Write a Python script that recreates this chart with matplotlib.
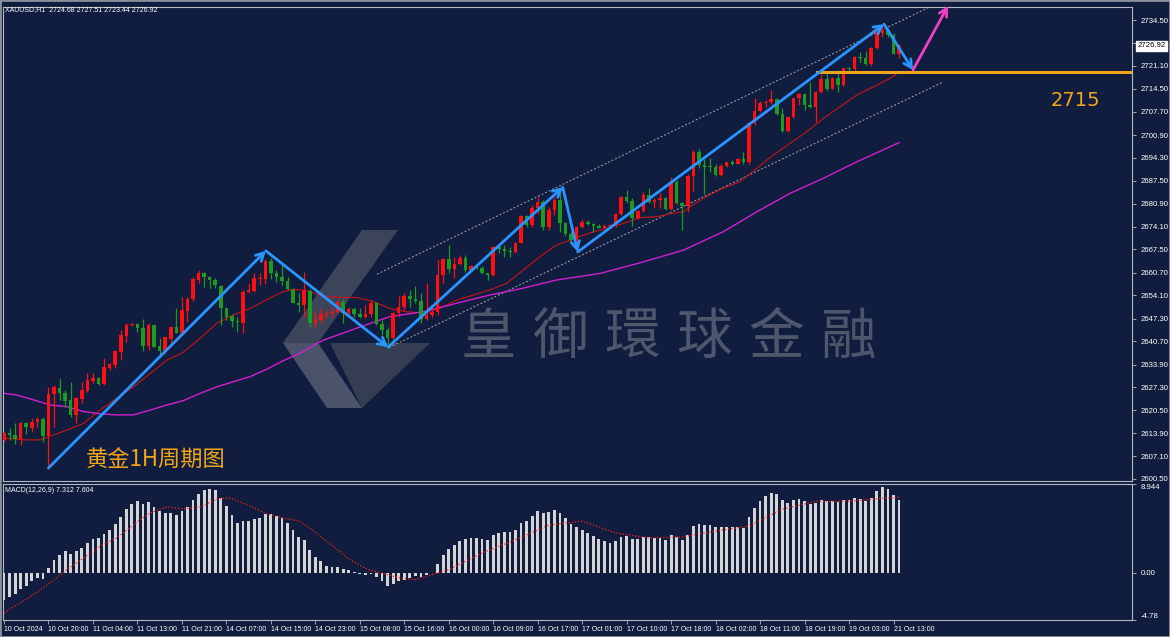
import numpy as np
import matplotlib
matplotlib.use("Agg")
import matplotlib.pyplot as plt
from matplotlib.patches import Polygon
import matplotlib.transforms as mtransforms

plt.rcParams['font.family'] = ['Liberation Sans', 'DejaVu Sans']

# ---- data (XAUUSD H1) ----
opens = [2611.9, 2614.0, 2613.3, 2612.2, 2616.9, 2615.3, 2617.2, 2617.9, 2613.0, 2625.3,
         2627.2, 2625.5, 2623.6, 2619.2, 2623.8, 2626.3, 2629.2, 2629.9, 2628.2, 2633.0,
         2633.8, 2637.7, 2642.3, 2645.4, 2645.7, 2644.7, 2639.3, 2645.4, 2639.3, 2637.9,
         2641.5, 2644.8, 2643.2, 2649.6, 2652.9, 2658.6, 2660.5, 2659.4, 2658.6, 2656.8,
         2650.3, 2648.1, 2646.7, 2646.1, 2655.0, 2655.5, 2658.9, 2658.8, 2664.0, 2660.5,
         2659.4, 2658.4, 2655.7, 2652.0, 2651.3, 2655.4, 2645.9, 2646.9, 2648.6, 2649.0,
         2649.3, 2652.3, 2648.9, 2650.0, 2648.6, 2647.9, 2648.6, 2651.8, 2645.7, 2644.0,
         2641.6, 2648.9, 2650.8, 2653.9, 2652.9, 2652.4, 2647.1, 2648.4, 2649.3, 2660.0,
         2664.7, 2661.7, 2663.4, 2665.1, 2661.5, 2662.7, 2662.0, 2660.5, 2660.0, 2668.1,
         2667.6, 2667.1, 2666.8, 2669.5, 2677.3, 2674.6, 2679.5, 2681.5, 2674.2, 2679.0,
         2681.9, 2675.1, 2672.0, 2670.3, 2674.2, 2675.6, 2674.9, 2674.4, 2673.9, 2674.4,
         2674.6, 2677.8, 2682.9, 2681.7, 2676.6, 2678.7, 2683.4, 2681.3, 2682.0, 2682.4,
         2679.2, 2687.3, 2681.2, 2680.3, 2689.0, 2695.9, 2692.2, 2692.0, 2691.6, 2689.2,
         2692.0, 2692.9, 2692.6, 2693.9, 2692.9, 2704.3, 2707.9, 2710.2, 2710.5, 2711.4,
         2707.0, 2702.1, 2706.3, 2711.6, 2712.8, 2709.7, 2709.2, 2713.4, 2717.3, 2714.5,
         2717.7, 2715.5, 2720.4, 2720.1, 2723.8, 2723.5, 2721.6, 2726.4, 2730.6, 2731.6,
         2730.1, 2724.68]
highs = [2614.3, 2615.3, 2616.7, 2617.2, 2617.2, 2618.2, 2618.5, 2618.7, 2627.4, 2627.8,
         2629.9, 2626.5, 2628.9, 2624.5, 2628.9, 2631.3, 2631.3, 2630.2, 2635.7, 2634.5,
         2638.2, 2644.0, 2646.1, 2645.9, 2645.9, 2647.1, 2645.9, 2645.7, 2641.6, 2642.0,
         2645.0, 2650.3, 2653.7, 2653.7, 2659.4, 2661.5, 2661.0, 2659.8, 2659.1, 2657.1,
         2650.8, 2648.7, 2647.9, 2655.7, 2657.6, 2660.5, 2660.5, 2664.6, 2664.9, 2661.5,
         2663.0, 2659.6, 2656.2, 2654.7, 2661.0, 2655.9, 2649.3, 2650.3, 2649.8, 2650.8,
         2652.7, 2652.9, 2650.8, 2650.8, 2650.3, 2651.3, 2652.7, 2652.3, 2646.9, 2645.0,
         2649.3, 2653.9, 2654.7, 2655.7, 2656.8, 2654.7, 2657.6, 2650.3, 2664.4, 2664.9,
         2668.8, 2665.4, 2665.9, 2665.9, 2662.9, 2662.9, 2662.7, 2660.7, 2668.5, 2668.8,
         2668.8, 2668.1, 2669.8, 2677.6, 2677.6, 2680.5, 2682.9, 2681.9, 2680.0, 2682.9,
         2685.4, 2675.6, 2672.7, 2674.4, 2676.3, 2676.1, 2675.1, 2674.8, 2674.8, 2674.8,
         2678.1, 2683.2, 2684.9, 2682.4, 2679.0, 2684.2, 2685.5, 2682.6, 2683.9, 2682.8,
         2688.8, 2687.8, 2681.5, 2689.4, 2696.6, 2696.8, 2693.9, 2694.1, 2692.4, 2692.4,
         2693.1, 2693.6, 2694.3, 2696.1, 2704.8, 2711.8, 2710.9, 2711.1, 2714.1, 2711.6,
         2708.7, 2706.5, 2711.8, 2713.1, 2713.1, 2716.5, 2713.8, 2718.6, 2718.6, 2718.0,
         2719.9, 2720.6, 2720.9, 2724.1, 2725.1, 2725.5, 2726.7, 2731.6, 2733.0, 2732.0,
         2730.6, 2727.51]
lows = [2611.4, 2611.9, 2610.7, 2610.4, 2613.6, 2614.3, 2615.8, 2611.4, 2603.3, 2615.8,
        2623.6, 2621.6, 2618.7, 2616.7, 2622.6, 2626.0, 2628.4, 2627.9, 2627.9, 2632.3,
        2632.8, 2635.2, 2640.6, 2645.2, 2643.5, 2638.0, 2638.2, 2638.9, 2636.7, 2637.2,
        2640.1, 2643.0, 2642.5, 2646.4, 2652.6, 2657.6, 2656.4, 2656.2, 2656.2, 2645.4,
        2646.9, 2645.0, 2643.5, 2643.2, 2654.7, 2655.2, 2657.1, 2657.4, 2658.8, 2658.1,
        2657.1, 2655.7, 2651.8, 2649.3, 2647.9, 2645.0, 2645.0, 2645.9, 2647.4, 2647.9,
        2648.9, 2645.9, 2648.4, 2647.9, 2647.4, 2647.4, 2647.9, 2645.4, 2642.5, 2638.7,
        2641.1, 2647.9, 2649.8, 2650.8, 2652.0, 2645.9, 2646.9, 2647.9, 2648.4, 2657.6,
        2660.5, 2659.1, 2662.9, 2661.0, 2661.3, 2661.7, 2660.3, 2658.6, 2659.8, 2666.5,
        2665.4, 2665.4, 2666.4, 2669.3, 2674.2, 2674.2, 2678.0, 2673.2, 2673.2, 2677.6,
        2672.7, 2671.4, 2669.3, 2666.8, 2673.7, 2674.6, 2672.7, 2673.7, 2673.7, 2673.7,
        2674.2, 2677.6, 2681.0, 2674.5, 2676.4, 2678.5, 2681.0, 2679.5, 2679.5, 2679.0,
        2679.0, 2680.7, 2673.2, 2678.5, 2684.6, 2691.2, 2683.6, 2690.2, 2689.1, 2689.1,
        2691.7, 2692.2, 2692.4, 2692.6, 2692.6, 2703.8, 2707.7, 2709.2, 2709.9, 2706.8,
        2701.9, 2701.7, 2706.0, 2709.7, 2708.2, 2708.9, 2704.8, 2713.1, 2713.8, 2714.4,
        2713.6, 2715.3, 2718.9, 2719.6, 2722.3, 2721.4, 2721.2, 2726.0, 2729.6, 2729.6,
        2724.5, 2723.44]
closes = [2613.8, 2613.3, 2612.2, 2616.7, 2615.6, 2617.2, 2617.9, 2613.0, 2625.3, 2627.4,
          2625.5, 2623.4, 2619.2, 2624.0, 2626.5, 2629.4, 2629.9, 2628.2, 2633.3, 2634.0,
          2637.9, 2642.5, 2645.4, 2645.7, 2644.7, 2639.3, 2645.4, 2639.1, 2638.0, 2641.8,
          2644.8, 2643.2, 2649.8, 2652.9, 2658.8, 2660.5, 2659.6, 2658.6, 2657.1, 2650.3,
          2647.9, 2646.7, 2646.2, 2655.2, 2655.7, 2659.1, 2659.3, 2664.0, 2660.5, 2659.4,
          2658.4, 2655.9, 2652.0, 2651.3, 2655.4, 2645.9, 2646.9, 2648.6, 2649.0, 2649.3,
          2652.3, 2648.9, 2650.0, 2648.6, 2647.9, 2648.6, 2651.8, 2645.7, 2644.0, 2641.6,
          2648.9, 2650.8, 2653.9, 2652.9, 2652.4, 2647.1, 2648.4, 2649.3, 2660.0, 2664.7,
          2661.7, 2663.4, 2665.1, 2661.5, 2662.7, 2662.0, 2660.5, 2660.0, 2668.1, 2667.6,
          2667.1, 2666.8, 2669.5, 2677.3, 2674.6, 2679.5, 2681.5, 2674.2, 2679.0, 2681.9,
          2675.1, 2672.0, 2670.3, 2674.2, 2675.6, 2674.9, 2674.4, 2673.9, 2674.4, 2674.6,
          2677.8, 2682.9, 2681.7, 2676.6, 2678.7, 2683.4, 2681.3, 2682.0, 2682.4, 2679.2,
          2687.3, 2681.2, 2680.3, 2689.0, 2695.9, 2692.2, 2691.7, 2691.6, 2689.2, 2692.0,
          2692.9, 2692.6, 2693.9, 2692.9, 2704.3, 2707.9, 2710.2, 2710.5, 2711.4, 2707.0,
          2702.1, 2706.3, 2711.6, 2712.8, 2709.7, 2709.2, 2713.4, 2717.3, 2714.5, 2717.7,
          2715.5, 2720.4, 2720.1, 2723.8, 2723.3, 2721.6, 2726.4, 2731.1, 2731.6, 2730.1,
          2724.68, 2726.92]

# moving averages (red fast, magenta slow), sampled along the lines
ma_fast_x = [0, 4, 6.5, 8, 11.3, 14.3, 17.3, 19, 23.3, 26.3, 29.3, 32, 35.3, 38.3, 41.3,
             44.3, 47.2, 50.2, 52, 54.4, 57.4, 60.4, 63.4, 66.4, 69.4, 72.4, 75.4, 78.4,
             81.4, 84.4, 87.4, 90.4, 93.4, 96.4, 99.4, 101.2, 103, 105.4, 108.4, 111.4,
             114.4, 117.4, 120.4, 122.2, 123.4, 126.4, 129.4, 132.4, 135.4, 138.4, 141.4,
             144.4, 147.4, 150.4, 153.4, 156.4, 159.4, 161]
ma_fast_y = [2612.4, 2611.9, 2611.9, 2612.8, 2614.8, 2616.7, 2620.6, 2622.6, 2627.4, 2631.3,
             2635.2, 2637.2, 2641.6, 2646.0, 2648.4, 2650.3, 2652.8, 2655.2, 2655.9, 2655.5,
             2653.9, 2653.5, 2653.5, 2652.3, 2650.3, 2649.3, 2649.0, 2650.3, 2652.7, 2654.2,
             2655.7, 2657.6, 2661.5, 2665.4, 2668.8, 2669.8, 2671.0, 2672.3, 2673.7, 2675.1,
             2676.8, 2677.1, 2678.1, 2678.5, 2680.0, 2683.0, 2685.4, 2687.3, 2691.2, 2695.1,
             2698.5, 2701.9, 2705.8, 2709.2, 2712.6, 2715.0, 2717.5, 2719.3]
ma_slow_x = [0, 2.3, 5.3, 8.3, 11.3, 14.3, 17.3, 20.3, 23.3, 26.3, 29.3, 32.3, 35.3, 38.3,
             41.3, 44.3, 47.2, 50.2, 53.2, 57.4, 63.4, 69.4, 75.4, 81.4, 87.4, 93.4, 99.4,
             107.2, 114.4, 122.2, 129.4, 135.4, 141.4, 147.4, 153.4, 161]
ma_slow_y = [2625.5, 2625.0, 2623.6, 2622.1, 2621.6, 2620.2, 2619.5, 2619.2, 2619.2, 2620.6,
             2622.1, 2623.4, 2625.5, 2627.4, 2628.9, 2630.4, 2632.5, 2635.0, 2637.2, 2641.0,
             2644.5, 2647.9, 2649.3, 2651.8, 2654.2, 2656.2, 2658.6, 2660.5, 2663.6, 2667.3,
             2672.7, 2678.5, 2683.9, 2688.3, 2693.1, 2698.7]

macd = [-2.8, -2.46, -2.2, -1.65, -1.3, -0.88, -0.54, -0.6, 0.44, 1.31,
        1.82, 2.15, 1.92, 2.15, 2.49, 3.0, 3.4, 3.5, 3.94, 4.34,
        4.95, 5.62, 6.43, 6.97, 7.2, 6.97, 7.1, 6.63, 6.2, 6.03,
        6.03, 5.86, 6.2, 6.63, 7.37, 7.98, 8.38, 8.45, 8.38, 7.54,
        6.77, 5.86, 5.02, 5.19, 5.19, 5.42, 5.52, 5.96, 5.96, 5.76,
        5.52, 5.02, 4.34, 3.6, 3.33, 2.32, 1.58, 1.14, 0.71, 0.57,
        0.57, 0.37, 0.24, 0.1, -0.17, -0.2, -0.13, -0.44, -0.88, -1.38,
        -1.11, -0.88, -0.7, -0.5, -0.3, -0.4, -0.2, 0.0, 0.9, 1.8,
        2.4, 2.8, 3.2, 3.4, 3.5, 3.5, 3.4, 3.3, 3.8, 4.0,
        4.1, 4.1, 4.3, 5.0, 5.2, 5.7, 6.2, 6.0, 6.1, 6.3,
        6.0, 5.5, 4.9, 4.6, 4.3, 4.0, 3.7, 3.4, 3.2, 3.0,
        3.2, 3.6, 3.7, 3.4, 3.4, 3.6, 3.6, 3.5, 3.5, 3.3,
        3.8, 3.6, 3.3, 3.8, 4.7, 4.9, 4.8, 4.8, 4.6, 4.6,
        4.6, 4.6, 4.6, 4.5, 5.6, 6.5, 7.2, 7.7, 8.0, 7.9,
        7.3, 7.0, 7.3, 7.4, 7.2, 6.9, 7.0, 7.3, 7.2, 7.2,
        7.1, 7.3, 7.3, 7.5, 7.4, 7.2, 7.5, 8.2, 8.6, 8.4,
        7.8, 7.312]
signal_x = [0, 5.3, 8.3, 11.3, 14.3, 17.3, 20.3, 23.3, 26.3, 29.3, 32.3, 35.3, 38.3, 40.7,
            44.3, 47.2, 50.2, 53.2, 56.2, 59.2, 62.2, 65.2, 68.2, 71.2, 74, 80, 86, 92, 98,
            104, 110, 116, 122, 128, 134, 140, 146, 152, 158, 161]
signal_y = [-4.07, -2.22, -1.04, 0.3, 1.48, 2.66, 3.5, 4.85, 6.03, 6.63, 6.43, 6.63, 7.44,
            7.54, 6.7, 5.96, 5.52, 5.19, 4.0, 2.66, 1.31, 0.37, -0.1, -0.54, -0.7, 0.3, 2.0,
            3.3, 4.8, 5.2, 4.0, 3.5, 3.6, 4.2, 4.7, 6.4, 7.2, 7.2, 7.5, 7.604]

time_labels = ['10 Oct 2024', '10 Oct 20:00', '11 Oct 04:00', '11 Oct 13:00', '11 Oct 21:00',
               '14 Oct 07:00', '14 Oct 15:00', '14 Oct 23:00', '15 Oct 08:00', '15 Oct 16:00',
               '16 Oct 00:00', '16 Oct 09:00', '16 Oct 17:00', '17 Oct 01:00', '17 Oct 10:00',
               '17 Oct 18:00', '18 Oct 02:00', '18 Oct 11:00', '18 Oct 19:00', '19 Oct 03:00',
               '21 Oct 13:00']
price_ticks = [2734.50, 2727.70, 2721.10, 2714.50, 2707.70, 2700.90, 2694.30, 2687.50,
               2680.90, 2674.10, 2667.50, 2660.70, 2654.10, 2647.30, 2640.70, 2633.90,
               2627.30, 2620.50, 2613.90, 2607.10, 2600.50]

# analyst drawings: zigzag (bar index, price), channel, support level
zig_x = [8, 47.1, 69.1, 100.5, 103.2, 158.3, 163.5]
zig_y = [2603.7, 2667.1, 2639.0, 2685.7, 2666.8, 2733.3, 2719.9]
proj_x = [163.5, 169.8]
proj_y = [2719.9, 2738.6]
chan_up_x, chan_up_y = [67.1, 166.5], [2660.3, 2738.3]
chan_lo_x, chan_lo_y = [69.3, 168.9], [2638.9, 2716.4]
level_start, level_price = 146.2, 2719.4
level_label = '2715'

BG = '#101d3e'
UP = '#ff1010'
DN = '#1e9a1e'
BLUE = '#2b95ff'
ORANGE = '#f2a51a'
GRID = '#b4b8c0'

W, H = 1170, 637
fig = plt.figure(figsize=(W / 100, H / 100), dpi=100, facecolor=BG)


def px(x, y):
    return (x / W, 1 - y / H)


ax = fig.add_axes([3 / W, 1 - 481 / H, 1129 / W, 474 / H], facecolor=BG)
axm = fig.add_axes([3 / W, 1 - 620 / H, 1129 / W, 136 / H], facecolor=BG, sharex=ax)

n = len(closes)
idx = np.arange(n)
o = np.array(opens)
c = np.array(closes)
up = c >= o
cols = np.where(up, UP, DN)

# watermark (logo + company name)
logo = [
    ([(362, 230), (398, 230), (318, 343), (283, 343)], '#3c4459'),
    ([(283, 343), (318, 343), (362, 408), (327, 408)], '#4a536a'),
    ([(330, 343), (430, 343), (362, 408)], '#353d52'),
]
for pts, col in logo:
    fig.patches.append(Polygon([px(*p) for p in pts], closed=True, transform=fig.transFigure,
                               facecolor=col, edgecolor='none', zorder=0.5))
for k, ch in enumerate('皇御環球金融'):
    fig.text(*px(488 + k * 72, 338), ch, fontsize=40, color='#4e566b',
             family=['Noto Sans CJK TC', 'DejaVu Sans'], ha='center', va='center', zorder=0.6)

ax.patch.set_alpha(0)
axm.patch.set_alpha(0)
ax.set_zorder(2)
axm.set_zorder(2)

# candles
ax.vlines(idx, lows, highs, colors=cols, lw=0.9, zorder=3)
ax.bar(idx, np.maximum(np.abs(c - o), 0.18), bottom=np.minimum(o, c), width=0.64,
       color=cols, lw=0, zorder=3)

ax.plot(ma_fast_x, ma_fast_y, color='#c81414', lw=0.8, zorder=2.5)
ax.plot(ma_slow_x, ma_slow_y, color='#d020d0', lw=1.0, zorder=2.5)

ax.plot(chan_up_x, chan_up_y, color='#a8a8b0', lw=0.7, ls=(0, (2, 2)), zorder=2)
ax.plot(chan_lo_x, chan_lo_y, color='#a8a8b0', lw=0.7, ls=(0, (2, 2)), zorder=2)

ax.plot([level_start, 202.9], [level_price, level_price], color=ORANGE, lw=2.2, zorder=4)
ax.text(192.8, 2711.1, level_label, color=ORANGE, fontsize=14, ha='center', va='center',
        family=['DejaVu Sans'])

for k in range(len(zig_x) - 1):
    ax.annotate('', xy=(zig_x[k + 1], zig_y[k + 1]), xytext=(zig_x[k], zig_y[k]),
                arrowprops=dict(arrowstyle='->,head_length=0.55,head_width=0.3', color=BLUE,
                                lw=2.0, shrinkA=0, shrinkB=0), zorder=5)
ax.annotate('', xy=(proj_x[1], proj_y[1]), xytext=(proj_x[0], proj_y[0]),
            arrowprops=dict(arrowstyle='->,head_length=0.55,head_width=0.3', color='#f040c8',
                            lw=2.0, shrinkA=0, shrinkB=0), annotation_clip=False, zorder=5)

ax.text(27.2, 2606.0, '黄金1H周期图', color=ORANGE, fontsize=16,
        family=['Noto Sans CJK SC', 'DejaVu Sans'], ha='center', va='center')

ax.set_xlim(-0.18, 202.9)
ax.set_ylim(2599.9, 2738.3)
ax.yaxis.tick_right()
ax.set_yticks(price_ticks)
ax.set_yticklabels([f'{v:.2f}' for v in price_ticks])
ax.tick_params(axis='y', colors=GRID, labelcolor='white', labelsize=5.6, length=3, width=0.6, pad=3)
ax.tick_params(axis='x', bottom=False, labelbottom=False)

# current price tag (sits over the 2727.70 tick label, as on the terminal)
tr = mtransforms.blended_transform_factory(ax.transAxes, ax.transData)
ax.text(1.005, closes[-1], f'{closes[-1]:.2f}', transform=tr, fontsize=5.6, color='black',
        va='center', ha='left', clip_on=False, zorder=10,
        bbox=dict(boxstyle='square,pad=0.2', facecolor='white', edgecolor='white'))

fig.text(*px(5, 10), 'XAUUSD,H1  2724.68 2727.51 2723.44 2726.92', fontsize=5.0,
         color='white', va='center', ha='left')

# MACD panel
axm.bar(idx, macd, width=0.5, color='#d4d4d4', lw=0, zorder=3)
axm.plot(signal_x, signal_y, color='#ff2020', lw=0.9, ls=(0, (1, 1.5)), zorder=4)
axm.set_ylim(-4.78, 8.944)
axm.yaxis.tick_right()
axm.set_yticks([8.944, 0.0, -4.78])
axm.set_yticklabels(['8.944', '0.00', '-4.78'])
axm.tick_params(axis='y', colors=GRID, labelcolor='white', labelsize=5.6, length=3, width=0.6, pad=3)
tl = axm.get_yticklabels()
tl[0].set_va('top')
tl[2].set_va('bottom')
axm.text(0.002, 0.975, 'MACD(12,26,9) 7.312 7.604', transform=axm.transAxes, fontsize=5.0,
         color='white', va='top', ha='left')

xt = list(range(0, 8 * len(time_labels), 8))
axm.set_xticks(xt)
axm.set_xticklabels(time_labels, ha='left')
axm.tick_params(axis='x', colors=GRID, labelcolor='white', labelsize=5.0, length=3, width=0.6, pad=1.5)
for lbl in axm.get_xticklabels():
    lbl.set_x(lbl.get_position()[0])

for a in (ax, axm):
    for s in a.spines.values():
        s.set_color(GRID)
        s.set_linewidth(0.8)

fig.patches.append(plt.Rectangle((0, 0), 1, 1, transform=fig.transFigure, fill=False,
                                 edgecolor='#8a8f9a', lw=2))

fig.savefig('out.png', dpi=100, facecolor=BG)
